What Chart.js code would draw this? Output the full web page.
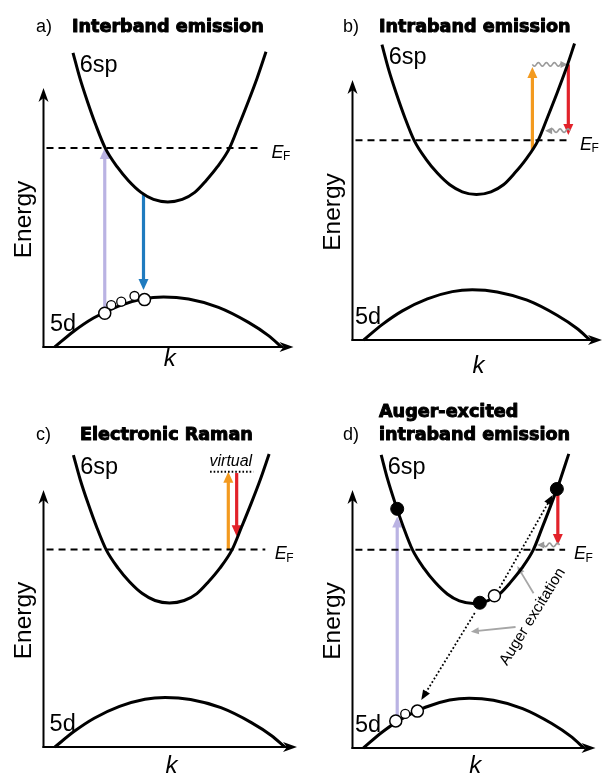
<!DOCTYPE html>
<html><head><meta charset="utf-8">
<script src="https://cdn.jsdelivr.net/npm/chart.js@4/dist/chart.umd.min.js"></script>
<style>
html,body{margin:0;padding:0;background:#fff;}
#wrap{position:relative;width:603px;height:774px;overflow:hidden;background:#fff;}
#wrap canvas{position:absolute;}
</style></head><body>
<div id="wrap">
<canvas id="pa" width="301" height="387" style="left:0;top:0"></canvas>
<canvas id="pb" width="302" height="387" style="left:301px;top:0"></canvas>
<canvas id="pc" width="301" height="387" style="left:0;top:387px"></canvas>
<canvas id="pd" width="302" height="387" style="left:301px;top:387px"></canvas>
</div>
<script>
// ===== data (k and energy in arbitrary units, axes span 0..10) =====
const sp6K = [1.18, 1.45, 1.75, 2.10, 2.47, 2.95, 3.40, 3.90, 4.40, 4.97, 5.55, 6.05, 6.50, 6.95, 7.44, 7.81, 8.20, 8.55, 8.90];
const sp6E = [11.36, 10.40, 9.50, 8.55, 7.68, 6.95, 6.42, 5.97, 5.70, 5.60, 5.70, 5.97, 6.42, 6.95, 7.68, 8.55, 9.50, 10.40, 11.40];
const d5K = [0.45, 1.20, 2.00, 3.00, 4.00, 4.80, 5.80, 7.00, 8.20, 9.00, 9.52];
const d5E = [0.00, 0.60, 1.12, 1.58, 1.86, 1.93, 1.85, 1.53, 0.95, 0.44, 0.00];
const fermiLevel = 7.68;
const fermiSpan = [0.12, 8.75];

// panel a: interband emission
const holesA = [{x:2.45, y:1.30}, {x:4.04, y:1.83}];
const smallHolesA = [{x:2.71, y:1.62}, {x:3.11, y:1.75}, {x:3.64, y:1.97}];
const arrowsA = [
  {from:[2.45, 1.30], to:[2.45, 7.68], color:'#bab3e3'},
  {from:[4.00, 5.90], to:[4.00, 2.20], color:'#1f7bbf'}
];
// panel b: intraband emission
const arrowsB = [
  {from:[7.21, 7.30], to:[7.21, 10.50], color:'#f39a1f'},
  {from:[8.65, 10.60], to:[8.65, 7.88], color:'#e2222a'}
];
const wavesB = [
  {from:[7.21, 10.60], to:[8.62, 10.60]},
  {from:[8.72, 8.05], to:[7.72, 8.05]}
];
// panel c: electronic Raman
const virtualLevel = [{x:6.57, y:10.71}, {x:8.28, y:10.71}];
const arrowsC = [
  {from:[7.29, 7.68], to:[7.29, 10.71], color:'#f39a1f'},
  {from:[7.62, 10.66], to:[7.62, 8.20], color:'#e2222a'}
];
// panel d: Auger-excited intraband emission
const electronsD = [{x:1.84, y:9.27}, {x:5.24, y:5.63}, {x:8.41, y:10.04}];
const holesD = [{x:1.78, y:1.05}, {x:2.67, y:1.43}, {x:5.84, y:5.90}];
const smallHolesD = [{x:2.17, y:1.32}];
const arrowsD = [
  {from:[1.84, 1.05], to:[1.84, 8.97], color:'#bab3e3'},
  {from:[8.45, 10.04], to:[8.45, 7.87], color:'#e2222a'}
];
const wavesD = [{from:[8.52, 7.87], to:[7.60, 7.87]}];
const dottedD = [
  {from:[6.05, 6.20], to:[8.24, 9.81]},
  {from:[5.03, 5.23], to:[2.83, 1.86]}
];
const augerArrowsD = [
  {from:[7.45, 6.00], to:[6.78, 7.05]},
  {from:[6.71, 4.69], to:[4.87, 4.51]}
];

// ===== drawing helpers =====
function headTri(ctx, x1, y1, x2, y2, len, halfW, color) {
  const a = Math.atan2(y2 - y1, x2 - x1);
  const bx = x2 - len * Math.cos(a), by = y2 - len * Math.sin(a);
  ctx.fillStyle = color;
  ctx.beginPath();
  ctx.moveTo(x2, y2);
  ctx.lineTo(bx + halfW * Math.sin(a), by - halfW * Math.cos(a));
  ctx.lineTo(bx - halfW * Math.sin(a), by + halfW * Math.cos(a));
  ctx.closePath();
  ctx.fill();
  return [bx + 1 * Math.cos(a), by + 1 * Math.sin(a)];
}
function stealth(ctx, x1, y1, x2, y2, len, halfW, notch, color) {
  const a = Math.atan2(y2 - y1, x2 - x1);
  const c = Math.cos(a), s = Math.sin(a);
  const bx = x2 - len * c, by = y2 - len * s;
  ctx.fillStyle = color;
  ctx.beginPath();
  ctx.moveTo(x2, y2);
  ctx.lineTo(bx + halfW * s, by - halfW * c);
  ctx.lineTo(x2 - (len - notch) * c, y2 - (len - notch) * s);
  ctx.lineTo(bx - halfW * s, by + halfW * c);
  ctx.closePath();
  ctx.fill();
  return [x2 - (len - notch) * c, y2 - (len - notch) * s];
}
function colorArrow(ctx, x1, y1, x2, y2, color, lw) {
  ctx.save();
  const base = headTri(ctx, x1, y1, x2, y2, 11, 5, color);
  ctx.strokeStyle = color; ctx.lineWidth = lw; ctx.lineCap = 'butt';
  ctx.beginPath(); ctx.moveTo(x1, y1); ctx.lineTo(base[0], base[1]); ctx.stroke();
  ctx.restore();
}
function wavyArrow(ctx, x1, y1, x2, y2, color) {
  const len = Math.hypot(x2 - x1, y2 - y1), a = Math.atan2(y2 - y1, x2 - x1);
  ctx.save();
  ctx.translate(x1, y1); ctx.rotate(a);
  ctx.strokeStyle = color; ctx.lineWidth = 1.6;
  ctx.beginPath();
  const end = len - 6;
  for (let t = 0; t <= end; t += 0.5) {
    const yy = 1.8 * Math.sin(2 * Math.PI * t / 8);
    if (t === 0) ctx.moveTo(t, yy); else ctx.lineTo(t, yy);
  }
  ctx.stroke();
  headTri(ctx, 0, 0, len, 0, 7, 3.5, color);
  ctx.restore();
}
function dottedArrow(ctx, x1, y1, x2, y2) {
  ctx.save();
  const base = headTri(ctx, x1, y1, x2, y2, 10, 4, '#000');
  ctx.strokeStyle = '#000'; ctx.lineWidth = 1.8; ctx.setLineDash([1.8, 2.2]);
  ctx.beginPath(); ctx.moveTo(x1, y1); ctx.lineTo(base[0], base[1]); ctx.stroke();
  ctx.restore();
}
function grayArrow(ctx, x1, y1, x2, y2) {
  ctx.save();
  const base = headTri(ctx, x1, y1, x2, y2, 8, 3.5, '#a6a6a6');
  ctx.strokeStyle = '#a6a6a6'; ctx.lineWidth = 1.8;
  ctx.beginPath(); ctx.moveTo(x1, y1); ctx.lineTo(base[0], base[1]); ctx.stroke();
  ctx.restore();
}

// ===== panel builder =====
function zip(ks, es) { return ks.map((k, i) => ({x: k, y: es[i]})); }

function makePanel(id, p) {
  const ds = [];
  if (p.electrons) ds.push({data: p.electrons, showLine:false, pointStyle:'circle', pointRadius:6.5,
    pointBackgroundColor:'#000', pointBorderColor:'#000', pointBorderWidth:1, order:0, clip:false});
  if (p.holes) ds.push({data: p.holes, showLine:false, pointStyle:'circle', pointRadius:6,
    pointBackgroundColor:'#fff', pointBorderColor:'#000', pointBorderWidth:1.5, order:1, clip:false});
  if (p.smallHoles) ds.push({data: p.smallHoles, showLine:false, pointStyle:'circle', pointRadius:4.5,
    pointBackgroundColor:'#fff', pointBorderColor:'#000', pointBorderWidth:1.3, order:2, clip:false});
  if (p.virtual) ds.push({data: p.virtual, showLine:true, borderColor:'#000', borderWidth:2,
    borderDash:[1.6, 2], pointRadius:0, order:3, clip:false});
  ds.push({data: [{x:fermiSpan[0], y:fermiLevel}, {x:fermiSpan[1], y:fermiLevel}], showLine:true,
    borderColor:'#000', borderWidth:2, borderDash:[7, 5], pointRadius:0, order:4, clip:false});
  ds.push({data: zip(sp6K, sp6E), showLine:true, borderColor:'#000', borderWidth:3, pointRadius:0,
    cubicInterpolationMode:'monotone', order:5, clip:false});
  ds.push({data: zip(d5K, d5E), showLine:true, borderColor:'#000', borderWidth:3, pointRadius:0,
    cubicInterpolationMode:'monotone', order:6, clip:false});

  const deco = {
    id: 'deco',
    beforeDatasetsDraw(chart) {
      const ctx = chart.ctx, X = v => chart.scales.x.getPixelForValue(v), Y = v => chart.scales.y.getPixelForValue(v);
      // axes
      ctx.save();
      ctx.strokeStyle = '#000'; ctx.lineWidth = 2; ctx.lineCap = 'butt';
      const x0 = X(0), y0 = Y(0), yT = Y(10), xR = X(10);
      ctx.beginPath(); ctx.moveTo(x0, y0 + 1); ctx.lineTo(x0, yT + 10); ctx.stroke();
      ctx.beginPath(); ctx.moveTo(x0 - 1, y0); ctx.lineTo(xR - 10, y0); ctx.stroke();
      stealth(ctx, x0, y0, x0, yT, 14, 5, 4, '#000');
      stealth(ctx, x0, y0, xR, y0, 14, 5, 4, '#000');
      ctx.restore();
      (p.arrows || []).forEach(a => colorArrow(ctx, X(a.from[0]), Y(a.from[1]), X(a.to[0]), Y(a.to[1]), a.color, 3.2));
      (p.waves || []).forEach(a => wavyArrow(ctx, X(a.from[0]), Y(a.from[1]), X(a.to[0]), Y(a.to[1]), '#9a9a9a'));
      (p.dotted || []).forEach(a => dottedArrow(ctx, X(a.from[0]), Y(a.from[1]), X(a.to[0]), Y(a.to[1])));
      (p.gray || []).forEach(a => grayArrow(ctx, X(a.from[0]), Y(a.from[1]), X(a.to[0]), Y(a.to[1])));
    },
    afterDraw(chart) {
      const ctx = chart.ctx, X = v => chart.scales.x.getPixelForValue(v), Y = v => chart.scales.y.getPixelForValue(v);
      const ca = chart.chartArea;
      ctx.save();
      ctx.fillStyle = '#000'; ctx.textBaseline = 'alphabetic'; ctx.textAlign = 'left';
      // panel letter
      ctx.font = '18px "Liberation Sans", Arial, sans-serif';
      ctx.fillText(p.letter, p.letterX, p.titleBase[p.titleBase.length - 1]);
      // bold title
      ctx.font = 'bold 17.6px "DejaVu Sans", sans-serif';
      ctx.lineWidth = 1.0; ctx.strokeStyle = '#000'; ctx.lineJoin = 'round';
      p.title.forEach((t, i) => { ctx.fillText(t, p.titleX, p.titleBase[i]); ctx.strokeText(t, p.titleX, p.titleBase[i]); });
      // band labels
      ctx.font = '23.5px "Liberation Sans", Arial, sans-serif';
      ctx.fillText('6sp', X(1.45), Y(10.63));
      ctx.fillText('5d', X(p.d5LabelK), Y(0.62));
      // Energy
      ctx.save();
      ctx.font = '24.5px "Liberation Sans", Arial, sans-serif';
      ctx.translate(ca.left - 19.5, (ca.top + ca.bottom) / 2 + 2);
      ctx.rotate(-Math.PI / 2);
      ctx.textAlign = 'center'; ctx.textBaseline = 'middle';
      ctx.fillText('Energy', 0, 0);
      ctx.restore();
      // k
      ctx.font = 'italic 24px "Liberation Sans", Arial, sans-serif';
      ctx.textAlign = 'center';
      ctx.fillText('k', X(5.05), p.kBase);
      // E_F
      ctx.textAlign = 'left';
      ctx.font = 'italic 18px "Liberation Sans", Arial, sans-serif';
      const ex = X(9.12), ey = Y(fermiLevel);
      ctx.fillText('E', ex, ey + 9.5);
      const w = ctx.measureText('E').width;
      ctx.font = '12px "Liberation Sans", Arial, sans-serif';
      ctx.fillText('F', ex + w - 0.5, ey + 12);
      if (p.virtual) {
        ctx.font = 'italic 16px "Liberation Sans", Arial, sans-serif';
        ctx.textAlign = 'center';
        ctx.fillText('virtual', X(7.39), Y(10.93));
      }
      if (p.auger) {
        ctx.save();
        ctx.translate(X(7.41), Y(5.09));
        ctx.rotate(-58.3 * Math.PI / 180);
        ctx.font = '15.5px "Liberation Sans", Arial, sans-serif';
        ctx.textAlign = 'center'; ctx.textBaseline = 'middle';
        ctx.fillText('Auger excitation', 0, 0);
        ctx.restore();
      }
      ctx.restore();
    }
  };

  return new Chart(document.getElementById(id), {
    type: 'scatter',
    data: {datasets: ds},
    options: {
      responsive: false, animation: false, devicePixelRatio: 1,
      layout: {padding: p.pad},
      scales: {
        x: {type:'linear', min:0, max:10, display:false},
        y: {type:'linear', min:0, max:10, display:false}
      },
      plugins: {legend:{display:false}, tooltip:{enabled:false}, title:{display:false}},
      events: []
    },
    plugins: [deco]
  });
}

makePanel('pa', {letter:'a)', letterX:36, titleX:72, title:['Interband emission'], titleBase:[32],
  pad:{left:43.5, right:6, top:88, bottom:40}, kBase:366, d5LabelK:0.26,
  holes:holesA, smallHoles:smallHolesA, arrows:arrowsA});
makePanel('pb', {letter:'b)', letterX:42, titleX:78, title:['Intraband emission'], titleBase:[31.5],
  pad:{left:51.5, right:1, top:80, bottom:47}, kBase:373, d5LabelK:0.1,
  arrows:arrowsB, waves:wavesB});
makePanel('pc', {letter:'c)', letterX:36, titleX:80, title:['Electronic Raman'], titleBase:[53],
  pad:{left:43.5, right:4, top:103, bottom:27}, kBase:386, d5LabelK:0.24,
  arrows:arrowsC, virtual:virtualLevel});
makePanel('pd', {letter:'d)', letterX:42, titleX:78, title:['Auger-excited', 'intraband emission'], titleBase:[29.7, 53],
  pad:{left:51.5, right:1, top:103, bottom:26}, kBase:386, d5LabelK:0.1,
  electrons:electronsD, holes:holesD, smallHoles:smallHolesD, arrows:arrowsD, waves:wavesD,
  dotted:dottedD, gray:augerArrowsD, auger:true});
</script>
</body></html>
